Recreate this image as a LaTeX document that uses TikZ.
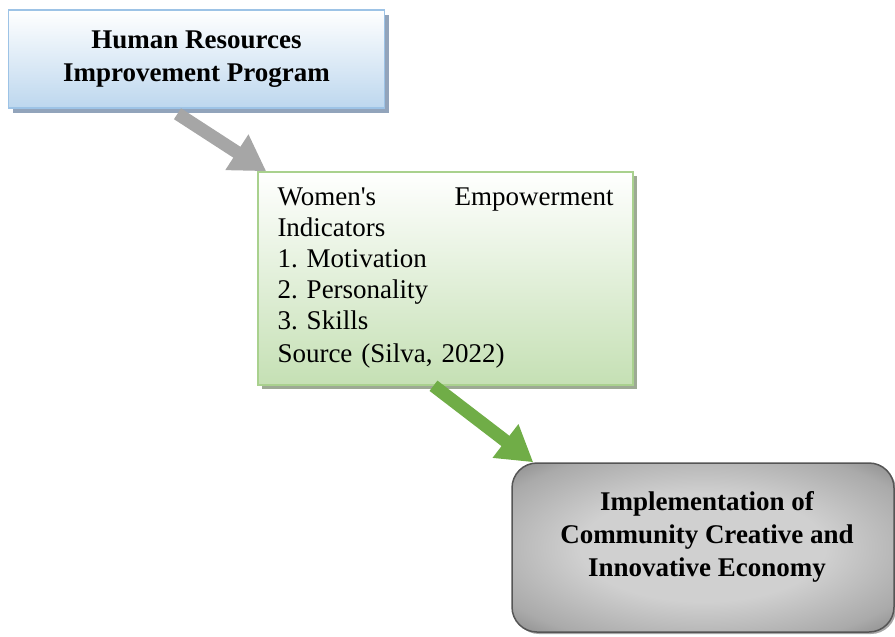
\documentclass[tikz,border=0pt]{standalone}
\usepackage{fontspec}
\setmainfont{Liberation Serif}
\usetikzlibrary{arrows.meta, positioning, calc, shadows}
\definecolor{progblue}{RGB}{189, 215, 238}
\definecolor{progborder}{RGB}{157, 195, 230}
\definecolor{progshadow}{RGB}{146, 164, 187}
\definecolor{indgreen}{RGB}{197, 224, 180}
\definecolor{indborder}{RGB}{169, 209, 142}
\definecolor{indshadow}{RGB}{157, 170, 148}
\definecolor{arrowgreen}{RGB}{112, 173, 71}
\definecolor{arrowgray}{RGB}{166, 166, 166}
\definecolor{implborder}{RGB}{85, 85, 85}
\definecolor{impllight}{RGB}{208, 208, 208}
\definecolor{implmid}{RGB}{170, 170, 170}
\definecolor{impldark}{RGB}{105, 105, 105}
\pgfdeclareradialshading{implshade}{\pgfpoint{0bp}{0bp}}{%
  color(0bp)=(impllight); color(16bp)=(impllight); color(30bp)=(implmid);
  color(42bp)=(impldark); color(50bp)=(impldark)}

\tikzset{
  progbox/.style={draw=progborder, line width=1.5pt, top color=white, bottom color=progblue,
    minimum width=376pt, minimum height=98pt, align=center, font=\bfseries,
    drop shadow={shadow xshift=4pt, shadow yshift=-5pt, fill=progshadow, opacity=1}},
  indbox/.style={draw=indborder, line width=1.5pt, top color=white, bottom color=indgreen,
    text width=336pt, inner xsep=19.5pt, minimum height=213pt, align=left,
    drop shadow={shadow xshift=4pt, shadow yshift=-4pt, fill=indshadow, opacity=1}},
  implbox/.style={draw=implborder, line width=1.5pt, rounded corners=25pt,
    shade, shading=implshade,
    minimum width=382pt, minimum height=169pt,
    drop shadow={shadow xshift=2pt, shadow yshift=-2pt, fill=black!35, opacity=1}},
  fatarrow/.style={line width=13pt, -{Triangle[width=40pt, length=35pt]}}
}

\begin{document}
\frenchspacing
\begin{tikzpicture}[x=1pt, y=1pt]
        \fontsize{27}{33}\selectfont
        \useasboundingbox (0,0) rectangle (895,-637);

        % Boxes
        \node[progbox] (hrp) at (196.5,-59) {Human Resources\\Improvement Program};
        \node[indbox] (wei) at (445.5,-278.5) {\fontsize{27}{31}\selectfont
          Women\textquotesingle s\hfill Empowerment\\
          Indicators\\
          1. Motivation\\
          2. Personality\\
          3. Skills\\
          Source (Silva, 2022)};
        \node[implbox] (impl) at (703,-547.5) {};
        \node[align=center, font=\bfseries, inner sep=0pt] (impltext) at ($(impl.center)+(4,11)$)
          {\fontsize{27}{36.5}\selectfont Implementation of\\Community Creative and\\Innovative Economy};

        % Arrows
        \draw[fatarrow, arrowgray] ($(hrp.south)+(-19,-5)$) -- ($(wei.north west)+(9,0)$);
        \draw[fatarrow, arrowgreen] ($(wei.south)+(-12,0)$) -- ($(impl.north west)+(22,0)$);
    \end{tikzpicture}
\end{document}
